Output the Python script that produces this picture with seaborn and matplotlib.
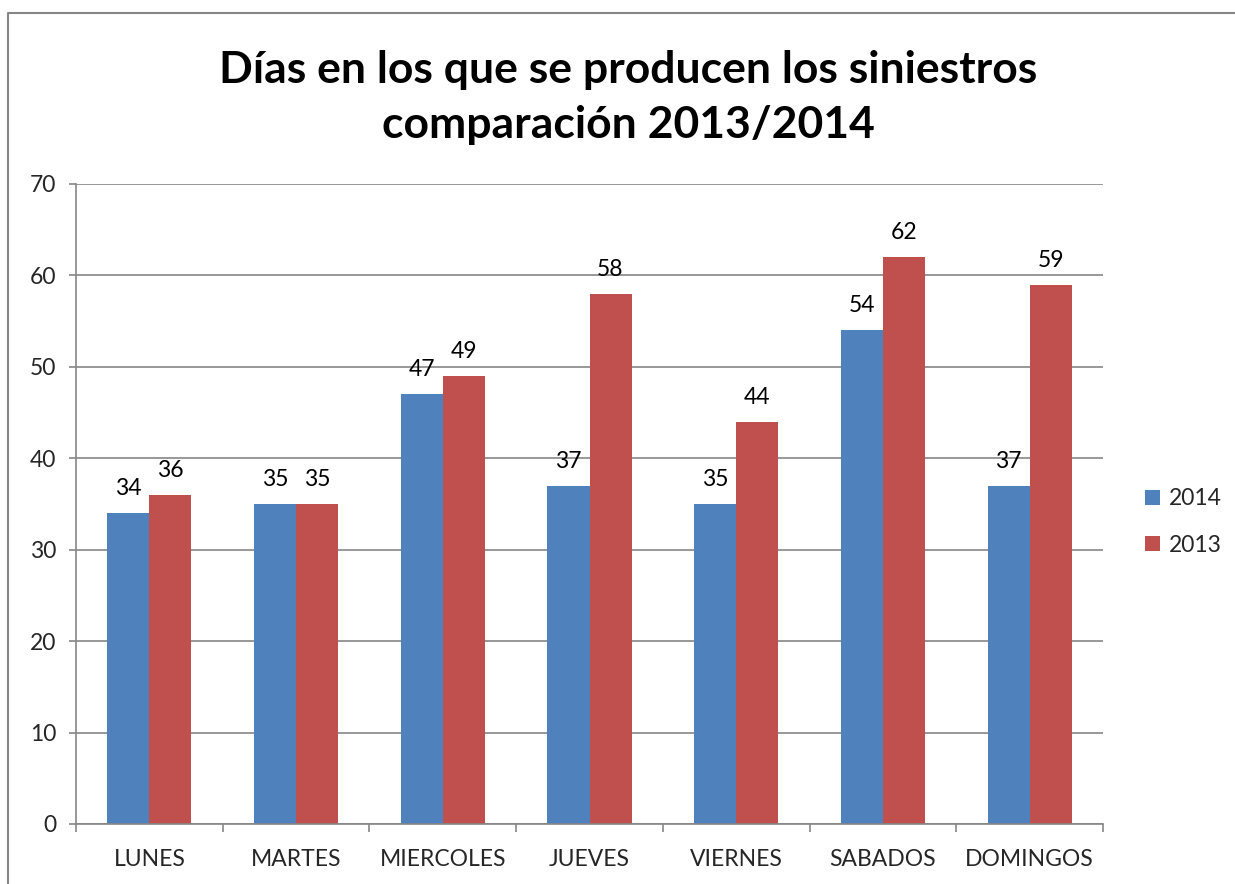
import pandas as pd
import matplotlib
matplotlib.use("Agg")
import matplotlib.pyplot as plt
from matplotlib.lines import Line2D
import seaborn as sns

# datos del grafico
dias = ["LUNES", "MARTES", "MIERCOLES", "JUEVES", "VIERNES", "SABADOS", "DOMINGOS"]
valores_2014 = [34, 35, 47, 37, 35, 54, 37]
valores_2013 = [36, 35, 49, 58, 44, 62, 59]
anios = ["2014", "2013"]
colores = ["#4F81BD", "#C0504D"]

df = pd.DataFrame({
    "Dia": dias * 2,
    "Valor": valores_2014 + valores_2013,
    "Anio": [anios[0]] * len(dias) + [anios[1]] * len(dias),
})

sns.set_style("white")
plt.rcParams["font.family"] = ["Lato", "DejaVu Sans"]

fig = plt.figure(figsize=(12.35, 8.84), dpi=100)
ax = fig.add_axes([76 / 1235, 1 - 824 / 884, (1103 - 76) / 1235, (824 - 184) / 884])

sns.barplot(data=df, x="Dia", y="Valor", hue="Anio", palette=colores,
            width=0.573, saturation=1, ax=ax, gap=0, linewidth=0)

# etiquetas de datos
for cont in ax.containers:
    ax.bar_label(cont, padding=10, fontsize=16.5, color="black")

ax.set_ylim(0, 70)
ax.set_xlim(-0.5, len(dias) - 0.5)
ax.set_yticks(range(0, 71, 10))
ax.set_xlabel("")
ax.set_ylabel("")

grid_col = "#868686"
ax.yaxis.grid(True, color=grid_col, linewidth=1.2)
ax.set_axisbelow(True)
for s in ["top", "right"]:
    ax.spines[s].set_visible(False)
for s in ["left", "bottom"]:
    ax.spines[s].set_color(grid_col)
    ax.spines[s].set_linewidth(1.2)

ax.tick_params(axis="y", left=True, length=5, width=1.2, color=grid_col,
               labelsize=16.5, pad=9)
ax.tick_params(axis="x", which="major", length=0, labelsize=16.5, pad=18)
ax.set_xticks([i - 0.5 for i in range(len(dias) + 1)], minor=True)
ax.tick_params(axis="x", which="minor", bottom=True, length=6, width=1.2, color=grid_col)

# leyenda a la derecha
leg = ax.legend(loc="center left", bbox_to_anchor=(1124 / 1235, 1 - 522 / 884),
                bbox_transform=fig.transFigure, frameon=False, fontsize=16.5,
                handlelength=0.65, handleheight=0.65, handletextpad=0.4,
                labelspacing=1.1)

# titulo
fig.text(628 / 1235, 1 - 70 / 884, "Días en los que se producen los siniestros",
         ha="center", va="center", fontsize=32, fontweight="bold", color="black")
fig.text(628 / 1235, 1 - 125 / 884, "comparación 2013/2014",
         ha="center", va="center", fontsize=32, fontweight="bold", color="black")

# borde del area del grafico
fig.add_artist(Line2D([8 / 1235, 8 / 1235, 1.0], [0.0, 1 - 13 / 884, 1 - 13 / 884],
                      transform=fig.transFigure, color=grid_col, linewidth=1.5))

fig.savefig("out.png", dpi=100)
